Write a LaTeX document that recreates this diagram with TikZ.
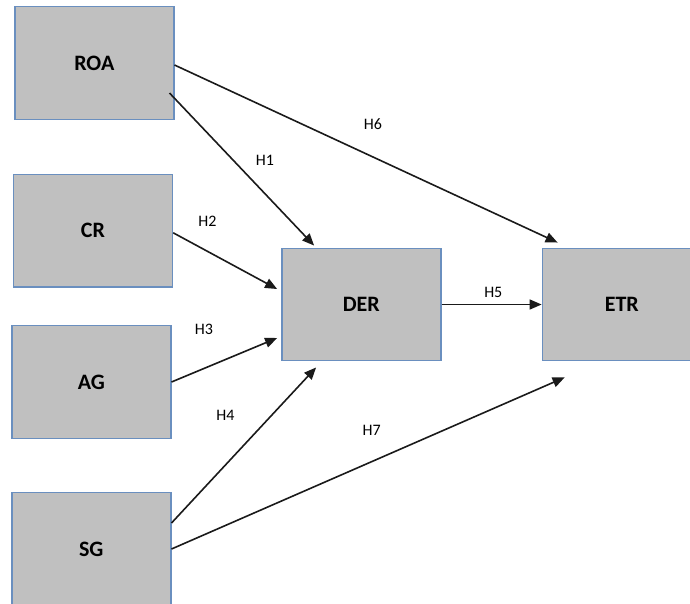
\documentclass[tikz,border=0pt]{standalone}
\usepackage{fontspec}
\setmainfont{Carlito}
\usetikzlibrary{arrows.meta,calc}
\definecolor{boxfill}{HTML}{C0C0C0}
\definecolor{boxline}{HTML}{6A8FBF}
\definecolor{arrowcol}{HTML}{1A1A1A}
\begin{document}
\begin{tikzpicture}[x=1pt,y=-1pt,
  varbox/.style={draw=boxline,line width=1.4pt,fill=boxfill,minimum width=159pt,minimum height=112.5pt,inner sep=0pt,font=\fontsize{22}{25}\selectfont\bfseries},
  link/.style={draw=arrowcol,line width=1.6pt,-{Triangle[length=12pt,width=10pt]}},
  hlab/.style={font=\fontsize{16}{18}\selectfont,inner sep=0pt}]
\useasboundingbox (0,0) rectangle (690,603);
\node[varbox] (roa) at (94.3,63) {ROA};
\node[varbox] (cr) at (93,230.8) {CR};
\node[varbox] (ag) at (91.3,382) {AG};
\node[varbox] (sg) at (91.3,549) {SG};
\node[varbox] (der) at (361.3,304.5) {DER};
\node[varbox] (etr) at (621.8,304.5) {ETR};
% connectors
\draw[link] ([yshift=-2pt]roa.east) -- ($(etr.north west)+(16,-5)$);
\draw[link] ($(roa.east)+(-5,30)$) -- ($(der.north west)+(33,-2)$);
\draw[link] ([yshift=-2pt]cr.east) -- ($(der.west)+(-4,-15.5)$);
\draw[link] (ag.east) -- ($(der.west)+(-4,33.5)$);
\draw[link] ($(sg.east)+(0,-26)$) -- ($(der.south west)+(35,6)$);
\draw[link] (sg.east) -- ($(etr.south west)+(23,16)$);
\draw[link] (der.east) -- (etr.west);
% labels
\node[hlab] (h6) at (373,124) {H6};
\node[hlab] (h1) at (265,160.5) {H1};
\node[hlab] (h2) at (207.5,221.5) {H2};
\node[hlab] (h3) at (204,329.5) {H3};
\node[hlab] (h4) at (225.5,415) {H4};
\node[hlab] (h5) at (493.3,292.5) {H5};
\node[hlab] (h7) at (371.7,430.5) {H7};
\end{tikzpicture}
\end{document}
